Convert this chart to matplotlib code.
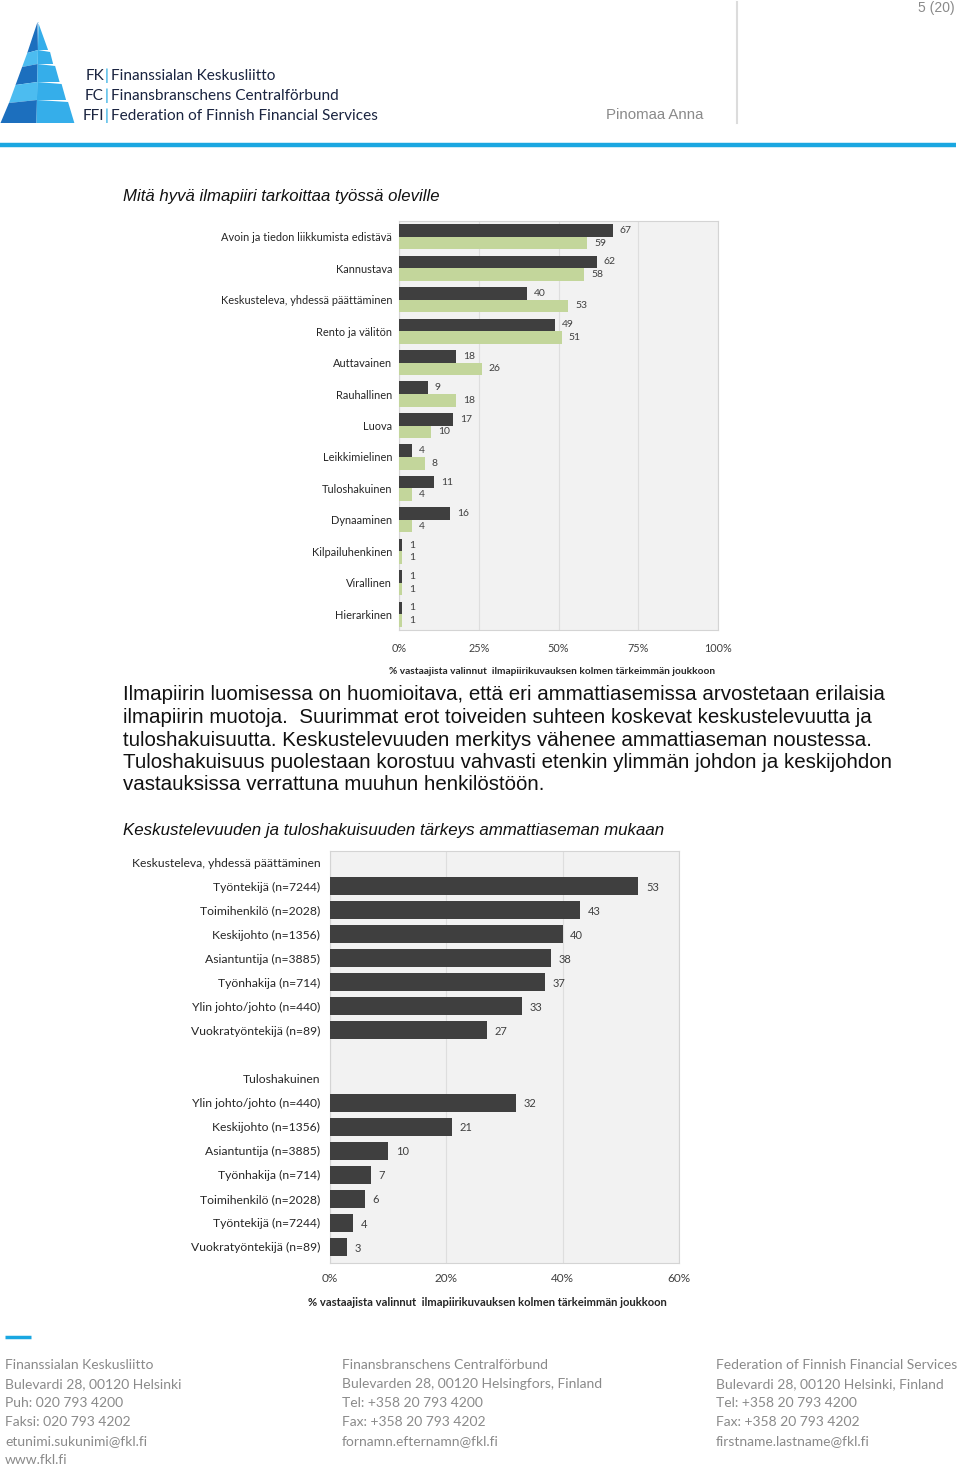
import matplotlib
matplotlib.use("Agg")
import matplotlib.pyplot as plt
from matplotlib.patches import Polygon, Rectangle
import numpy as np

# ---------------- data ----------------
categories1 = ["Avoin ja tiedon liikkumista edistävä", "Kannustava",
               "Keskusteleva, yhdessä päättäminen", "Rento ja välitön",
               "Auttavainen", "Rauhallinen", "Luova", "Leikkimielinen",
               "Tuloshakuinen", "Dynaaminen", "Kilpailuhenkinen",
               "Virallinen", "Hierarkinen"]
korkeasti = [67, 62, 40, 49, 18, 9, 17, 4, 11, 16, 1, 1, 1]
ammatti = [59, 58, 53, 51, 26, 18, 10, 8, 4, 4, 1, 1, 1]
series1_names = ["Korkeasti koulutetut\ntyössä olevat", "Työssä olevat\nammattiosaajat"]
ticks1 = [0, 25, 50, 75, 100]

group1_title = "Keskusteleva, yhdessä päättäminen"
group1_labels = ["Työntekijä (n=7244)", "Toimihenkilö (n=2028)", "Keskijohto (n=1356)",
                 "Asiantuntija (n=3885)", "Työnhakija (n=714)",
                 "Ylin johto/johto (n=440)", "Vuokratyöntekijä (n=89)"]
group1_values = [53, 43, 40, 38, 37, 33, 27]
group2_title = "Tuloshakuinen"
group2_labels = ["Ylin johto/johto (n=440)", "Keskijohto (n=1356)", "Asiantuntija (n=3885)",
                 "Työnhakija (n=714)", "Toimihenkilö (n=2028)", "Työntekijä (n=7244)",
                 "Vuokratyöntekijä (n=89)"]
group2_values = [32, 21, 10, 7, 6, 4, 3]
ticks2 = [0, 20, 40, 60]

xlabel = "% vastaajista valinnut  ilmapiirikuvauksen kolmen tärkeimmän joukkoon"

# ---------------- styles ----------------
W, H = 960, 1466
DARK = "#3f3f3f"
GREEN = "#c3d69b"
PLOTBG = "#f2f2f2"
GRID = "#dedede"
CFONT = ["Lato", "DejaVu Sans"]
BFONT = ["Liberation Sans", "DejaVu Sans"]
LBLUE = "#1aa7e1"

fig = plt.figure(figsize=(W / 100, H / 100), dpi=100)
bg = fig.add_axes([0, 0, 1, 1])
bg.set_xlim(0, W)
bg.set_ylim(H, 0)
bg.axis("off")
bg.set_zorder(0)


def fax(l, t, r, b):
    return fig.add_axes([l / W, 1 - b / H, (r - l) / W, (b - t) / H])


# ---------------- header / logo ----------------
def xl(y):
    return 37.5 - (y - 22) * 37 / 101.0


def xr(y):
    return 38 + (y - 22) * 0.36


def xm(y):
    return 38.5 - (y - 22) * 0.02

dblue = "#1c6fbe"
lblue = "#35aeea"
lblue2 = "#4cbcf0"
bounds = [22, 50, 64, 82, 100, 123]
left_cols = [dblue, lblue2, dblue, lblue2, dblue]
for i in range(len(bounds) - 1):
    y0, y1 = bounds[i], bounds[i + 1]
    if i == 0:
        left = [(37.5, 22), (xm(y1), y1), (xl(y1), y1 + 3)]
    else:
        left = [(xl(y0), y0 + 3), (xm(y0), y0), (xm(y1), y1),
                (xl(y1), y1 + (3 if i < 4 else 0))]
    bg.add_patch(Polygon(left, closed=True, facecolor=left_cols[i], edgecolor="none"))
    right = [(xm(y0), y0), (xr(y0) + (2 if i > 0 else 0), y0 + (2 if i > 0 else 0)),
             (xr(y1), y1), (xm(y1), y1)]
    bg.add_patch(Polygon(right, closed=True, facecolor=lblue, edgecolor="none"))

logo_rows = [("FK", "Finanssialan Keskusliitto", 76),
             ("FC", "Finansbranschens Centralförbund", 96),
             ("FFI", "Federation of Finnish Financial Services", 116)]
for pre, name, y in logo_rows:
    bg.text(104, y, pre, ha="right", va="center", fontsize=11.1, family=CFONT, color="#1a2440")
    bg.text(107, y, "|", ha="center", va="center", fontsize=11.1, family=CFONT, color=LBLUE)
    bg.text(111, y, name, ha="left", va="center", fontsize=11.1, family=CFONT, color="#1a2440")

bg.text(955, 8, "5 (20)", ha="right", va="center", fontsize=10, family=BFONT, color="#8a8a8a")
bg.text(606, 115, "Pinomaa Anna", ha="left", va="center", fontsize=10.8, family=BFONT, color="#8a8a8a")
bg.plot([737, 737], [2, 123], color="#dcdcdc", lw=1.5)
bg.plot([0, 956], [145, 145], color=LBLUE, lw=3.2, solid_capstyle="butt")

# ---------------- texts ----------------
bg.text(123, 197, "Mitä hyvä ilmapiiri tarkoittaa työssä oleville", ha="left", va="center",
        fontsize=12.1, style="italic", family=BFONT, color="#111111")
para = ["Ilmapiirin luomisessa on huomioitava, että eri ammattiasemissa arvostetaan erilaisia",
        "ilmapiirin muotoja.  Suurimmat erot toiveiden suhteen koskevat keskustelevuutta ja",
        "tuloshakuisuutta. Keskustelevuuden merkitys vähenee ammattiaseman noustessa.",
        "Tuloshakuisuus puolestaan korostuu vahvasti etenkin ylimmän johdon ja keskijohdon",
        "vastauksissa verrattuna muuhun henkilöstöön."]
for i, line in enumerate(para):
    bg.text(123, 695 + i * 22.5, line, ha="left", va="center", fontsize=14.75,
            family=BFONT, color="#111111")
bg.text(123, 831, "Keskustelevuuden ja tuloshakuisuuden tärkeys ammattiaseman mukaan",
        ha="left", va="center", fontsize=12.15, style="italic", family=BFONT, color="#111111")

# ---------------- chart 1 ----------------
ax1 = fax(399, 221, 718, 630)
ax1.set_zorder(1)
ax1.set_facecolor(PLOTBG)
y = np.arange(len(categories1))
bh = 0.4
ax1.barh(y - bh / 2, korkeasti, height=bh, color=DARK, zorder=3)
ax1.barh(y + bh / 2, ammatti, height=bh, color=GREEN, zorder=3)
for yi, v in zip(y, korkeasti):
    ax1.text(v + 2.2, yi - bh / 2, str(v), ha="left", va="center", fontsize=7.5,
             family=CFONT, color="#404040")
for yi, v in zip(y, ammatti):
    ax1.text(v + 2.2, yi + bh / 2, str(v), ha="left", va="center", fontsize=7.5,
             family=CFONT, color="#404040")
ax1.set_xlim(0, 100)
ax1.set_ylim(len(categories1) - 0.5, -0.5)
ax1.set_yticks(y)
ax1.set_yticklabels(categories1, fontsize=7.9, family=CFONT, color="#262626")
ax1.set_xticks(ticks1)
ax1.set_xticklabels([f"{t}%" for t in ticks1], fontsize=7.8, family=CFONT, color="#404040")
ax1.tick_params(length=0, pad=5)
ax1.tick_params(axis="x", pad=9)
ax1.grid(axis="x", color=GRID, lw=0.8, zorder=0)
for s in ax1.spines.values():
    s.set_color("#d4d4d4")
    s.set_linewidth(0.8)
bg.text(552, 671, xlabel, ha="center", va="center", fontsize=7.25, fontweight="bold",
        family=CFONT, color="#262626")
# legend
for (yy, c, name) in [(565, DARK, series1_names[0]), (598, GREEN, series1_names[1])]:
    bg.add_patch(Rectangle((602, yy - 3.5), 7, 7, facecolor=c, edgecolor="none", zorder=5))
    bg.text(611, yy - 6.5, name, ha="left", va="top", fontsize=7.3, family=CFONT,
            color="#404040", linespacing=1.2, zorder=5)

# ---------------- chart 2 ----------------
ax2 = fax(330, 851, 679, 1263)
ax2.set_zorder(1)
ax2.set_facecolor(PLOTBG)
labels2 = [group1_title] + group1_labels + [""] + [group2_title] + group2_labels
vals2 = [None] + group1_values + [None, None] + group2_values
pos2 = np.arange(len(labels2))
bar_pos = [p for p, v in zip(pos2, vals2) if v is not None]
bar_val = [v for v in vals2 if v is not None]
ax2.barh(bar_pos, bar_val, height=0.75, color=DARK, zorder=3)
for p, v in zip(bar_pos, bar_val):
    ax2.text(v + 1.3, p + 0.05, str(v), ha="left", va="center", fontsize=8,
             family=CFONT, color="#404040")
ax2.set_xlim(0, 60)
ax2.set_ylim(16.67, -0.46)
ax2.set_yticks(pos2)
ax2.set_yticklabels(labels2, fontsize=8.7, family=CFONT, color="#262626")
ax2.set_xticks(ticks2)
ax2.set_xticklabels([f"{t}%" for t in ticks2], fontsize=8.5, family=CFONT, color="#404040")
ax2.tick_params(length=0, pad=7)
ax2.tick_params(axis="x", pad=7)
ax2.grid(axis="x", color=GRID, lw=0.8, zorder=0)
for s in ax2.spines.values():
    s.set_color("#d4d4d4")
    s.set_linewidth(0.8)
bg.text(487, 1303, xlabel, ha="center", va="center", fontsize=8.1, fontweight="bold",
        family=CFONT, color="#262626")

# ---------------- footer ----------------
bg.plot([5, 31], [1337, 1337], color=LBLUE, lw=2.5, solid_capstyle="butt")
footer_cols = [
    (5, ["Finanssialan Keskusliitto", "Bulevardi 28, 00120 Helsinki", "Puh: 020 793 4200",
         "Faksi: 020 793 4202", "etunimi.sukunimi@fkl.fi", "www.fkl.fi"]),
    (342, ["Finansbranschens Centralförbund", "Bulevarden 28, 00120 Helsingfors, Finland",
           "Tel: +358 20 793 4200", "Fax: +358 20 793 4202", "fornamn.efternamn@fkl.fi"]),
    (716, ["Federation of Finnish Financial Services", "Bulevardi 28, 00120 Helsinki, Finland",
           "Tel: +358 20 793 4200", "Fax: +358 20 793 4202", "firstname.lastname@fkl.fi"]),
]
for x0, lines in footer_cols:
    for i, line in enumerate(lines):
        bg.text(x0, 1365 + i * 19, line, ha="left", va="center", fontsize=10,
                family=CFONT, color="#8a8a8a")

fig.savefig("out.png", dpi=100)
